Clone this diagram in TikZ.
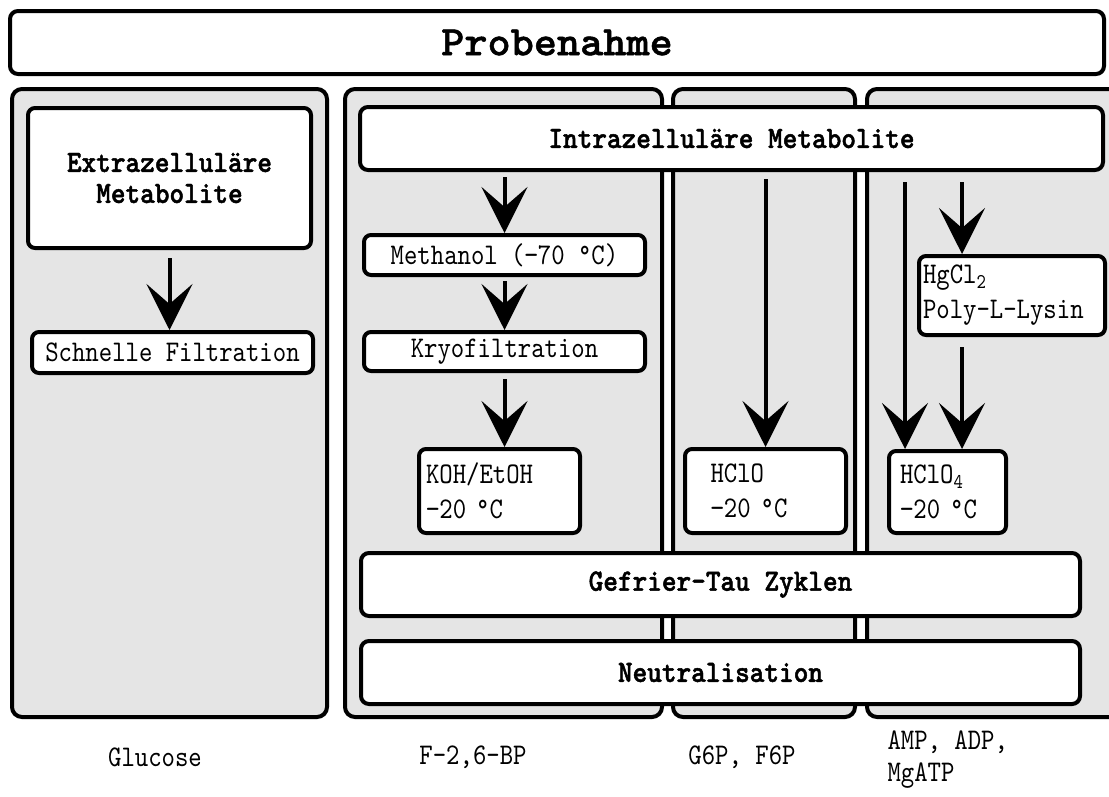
\documentclass[tikz,border=0pt]{standalone}
\usepackage{fontspec}
\usepackage{tikz}
\usetikzlibrary{arrows.meta, positioning, calc}
\newfontfamily\condmono[FakeStretch=0.85, BoldFont=lmmonolt10-bold.otf, BoldFeatures={FakeBold=1.5}]{lmmono10-regular.otf}
\newfontfamily\boldmono[FakeStretch=0.9, BoldFont=lmmonolt10-bold.otf, BoldFeatures={FakeBold=1.5}]{lmmono10-regular.otf}
\newfontfamily\widemono[FakeStretch=1.05, BoldFont=lmmonolt10-bold.otf, BoldFeatures={FakeBold=1.2}]{lmmono10-regular.otf}
\definecolor{panelgray}{RGB}{229,229,229}

\begin{document}
\begin{tikzpicture}[x=1pt, y=-1pt,
    panel/.style={draw, line width=4pt, fill=panelgray, rounded corners=10pt, inner sep=0pt,
        minimum height=628pt},
    bar/.style={draw, line width=4pt, fill=white, rounded corners=8pt, align=center,
        minimum height=63pt, font=\boldmono\bfseries\fontsize{31}{32}\selectfont},
    box/.style={draw, line width=4pt, fill=white, rounded corners=7pt, align=center,
        inner xsep=4pt, font=\condmono\fontsize{30}{35}\selectfont},
    reag/.style={box, align=left, text width=#1},
    lbl/.style={align=left, font=\condmono\fontsize{30}{32}\selectfont},
    arrow/.style={line width=4pt, -{Stealth[length=46pt, width=46pt, inset=20pt]}}
]
\useasboundingbox (0,0) rectangle (1109,796);
\fill[white] (0,0) rectangle (1109,796);
\clip (0,0) rectangle (1109,796);
% column panels
\node[panel, minimum width=315pt] (p1) at (169.5,403) {};
\node[panel, minimum width=317pt] (p2) at (503.5,403) {};
\node[panel, minimum width=182pt] (p3) at (764,403) {};
\node[panel, minimum width=261pt] (p4) at (997.5,403) {};
% sampling bar
\node[bar, minimum width=1094pt, font=\widemono\bfseries\fontsize{42}{44}\selectfont] (top) at (557,42.5) {Probenahme};
% extracellular column
\node[box, minimum width=283pt, minimum height=140pt, font=\boldmono\bfseries\fontsize{31}{31}\selectfont] (extra) at (169.5,178) {Extrazelluläre\\Metabolite};
\node[box, minimum width=281pt, minimum height=41pt] (schnell) at (172.5,352.5) {Schnelle Filtration};
% intracellular columns
\node[bar, minimum width=743pt] (intra) at (731.5,138.5) {Intrazelluläre Metabolite};
\node[box, minimum width=281pt, minimum height=40pt] (meoh) at (504.5,255) {Methanol (−70 °C)};
\node[box, minimum width=281pt, minimum height=39pt] (kryo) at (504.5,351.5) {Kryofiltration};
\node[reag=147pt, minimum width=161pt, minimum height=84pt] (koh) at (499.5,491) {KOH/EtOH\\−20 °C};
\node[reag=110pt, minimum width=161pt, minimum height=84pt] (hclo) at (765.5,491) {HClO\\−20 °C};
\node[reag=178pt, minimum width=186pt, minimum height=79pt] (hgcl) at (1012,295.5) {HgCl\textsubscript{2}\\Poly-L-Lysin};
\node[reag=95pt, minimum width=117pt, minimum height=82pt] (hclofour) at (947.5,492) {HClO\textsubscript{4}\\−20 °C};
\node[bar, minimum width=719pt] (tau) at (720.5,584.5) {Gefrier-Tau Zyklen};
\node[bar, minimum width=719pt] (neutral) at (720.5,672.5) {Neutralisation};
% metabolites below the columns
\node[lbl] (glc) at (155,757) {Glucose};
\node[lbl] (fbp) at (473,757) {F-2,6-BP};
\node[lbl] (hexp) at (742,757) {G6P, F6P};
\node[lbl, anchor=west] (nucl) at (884,760) {AMP, ADP,\\MgATP};
% lanes in the last column
\coordinate (lanea) at (905,0);
\coordinate (laneb) at (962,0);
% arrows
\draw[arrow, shorten <=8pt] (extra.south) -- (extra.south |- schnell.north);
\draw[arrow, shorten <=5pt] (intra.south -| meoh.north) -- (meoh.north);
\draw[arrow, shorten <=4pt] (meoh.south) -- (kryo.north);
\draw[arrow, shorten <=6pt] (kryo.south) -- (kryo.south |- koh.north);
\draw[arrow, shorten <=7pt] (intra.south -| hclo.north) -- (hclo.north);
\draw[arrow, shorten <=10pt] (intra.south -| lanea) -- (hclofour.north -| lanea);
\draw[arrow, shorten <=10pt] (intra.south -| laneb) -- (hgcl.north -| laneb);
\draw[arrow, shorten <=10pt] (hgcl.south -| laneb) -- (hclofour.north -| laneb);
\end{tikzpicture}
\end{document}
